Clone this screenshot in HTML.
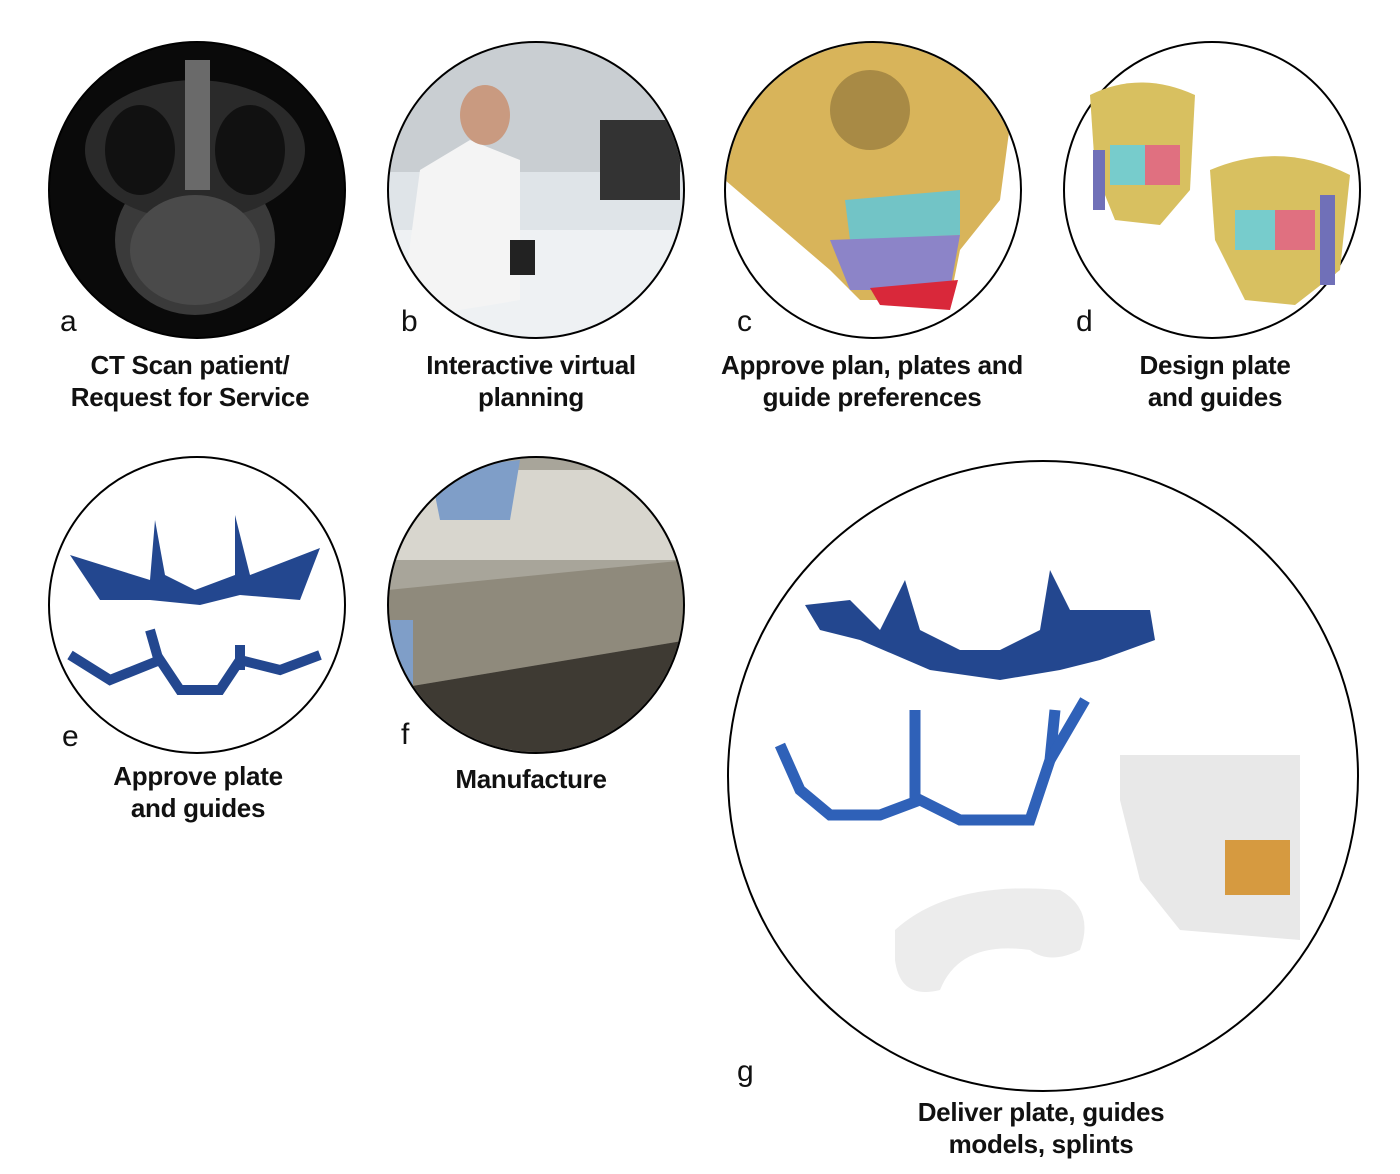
<!DOCTYPE html>
<html><head><meta charset="utf-8"><style>
html,body{margin:0;padding:0;background:#fff;}
svg{display:block}
text{font-family:"Liberation Sans",sans-serif;}
.cap{font-size:26px;font-weight:bold;letter-spacing:-0.3px;text-anchor:middle;fill:#111}
.lt{font-size:30px;fill:#111}
</style></head><body>
<svg width="1400" height="1174" viewBox="0 0 1400 1174" xmlns="http://www.w3.org/2000/svg">
<defs>
<clipPath id="ca"><circle cx="197" cy="190" r="147"/></clipPath>
<clipPath id="cb"><circle cx="536" cy="190" r="147"/></clipPath>
<clipPath id="cc"><circle cx="873" cy="190" r="147"/></clipPath>
<clipPath id="cf"><circle cx="536" cy="605" r="147"/></clipPath>
</defs>
<circle cx="197" cy="190" r="148" fill="#0a0a0a"/>
<g clip-path="url(#ca)">
<ellipse cx="195" cy="240" rx="80" ry="75" fill="#3a3a3a"/>
<ellipse cx="195" cy="150" rx="110" ry="70" fill="#2a2a2a"/>
<ellipse cx="140" cy="150" rx="35" ry="45" fill="#111"/>
<ellipse cx="250" cy="150" rx="35" ry="45" fill="#111"/>
<rect x="185" y="60" width="25" height="130" fill="#6a6a6a"/>
<ellipse cx="195" cy="250" rx="65" ry="55" fill="#4a4a4a"/>
</g>
<circle cx="197" cy="190" r="148" fill="none" stroke="#000" stroke-width="2"/>
<circle cx="536" cy="190" r="148" fill="#dfe4e8"/>
<g clip-path="url(#cb)">
<rect x="388" y="42" width="300" height="130" fill="#c9ced2"/>
<rect x="600" y="120" width="80" height="80" fill="#333"/>
<rect x="388" y="230" width="300" height="110" fill="#eef1f3"/>
<path d="M400 320 L420 170 L470 140 L520 160 L520 300 Z" fill="#f4f4f4"/>
<ellipse cx="485" cy="115" rx="25" ry="30" fill="#c99a80"/>
<rect x="510" y="240" width="25" height="35" fill="#222"/>
</g>
<circle cx="536" cy="190" r="148" fill="none" stroke="#000" stroke-width="2"/>
<circle cx="873" cy="190" r="148" fill="#fff"/>
<g clip-path="url(#cc)">
<path d="M725 42 L1021 42 L1000 200 L960 250 L950 300 L860 300 L830 270 L760 210 L725 180 Z" fill="#d8b45a"/>
<ellipse cx="870" cy="110" rx="40" ry="40" fill="#a88a45"/>
<path d="M845 200 L960 190 L960 235 L850 240 Z" fill="#72c4c6"/>
<path d="M830 240 L960 235 L950 290 L850 290 Z" fill="#8c84c8"/>
<path d="M870 288 L958 280 L950 310 L880 305 Z" fill="#d9283a"/>
</g>
<circle cx="873" cy="190" r="148" fill="none" stroke="#000" stroke-width="2"/>
<circle cx="1212" cy="190" r="148" fill="#fff" stroke="#000" stroke-width="2"/>
<path d="M1090 95 Q1140 70 1195 95 L1190 190 L1160 225 L1115 220 L1095 170 Z" fill="#d8c060"/>
<rect x="1110" y="145" width="70" height="40" fill="#e07080"/>
<rect x="1110" y="145" width="35" height="40" fill="#7cc"/>
<path d="M1210 170 Q1280 140 1350 175 L1340 270 L1295 305 L1245 300 L1215 240 Z" fill="#d8c060"/>
<rect x="1235" y="210" width="80" height="40" fill="#7cc"/>
<rect x="1275" y="210" width="40" height="40" fill="#e07080"/>
<rect x="1320" y="195" width="15" height="90" fill="#7070b8"/>
<rect x="1093" y="150" width="12" height="60" fill="#7070b8"/>
<circle cx="197" cy="605" r="148" fill="#fff" stroke="#000" stroke-width="2"/>
<path d="M70 555 L150 580 L155 520 L165 575 L195 590 L235 575 L235 515 L250 575 L320 548 L300 600 L240 595 L200 605 L150 600 L100 600 Z" fill="#23478f"/>
<path d="M70 655 L110 680 L160 660 L180 690 L220 690 L240 660 L280 670 L320 655" fill="none" stroke="#23478f" stroke-width="10"/>
<path d="M150 630 L160 665 M240 645 L240 670" stroke="#23478f" stroke-width="10"/>
<circle cx="536" cy="605" r="148" fill="#a8a59a"/>
<g clip-path="url(#cf)">
<rect x="388" y="470" width="300" height="90" fill="#d8d6ce"/>
<path d="M388 590 L688 560 L688 640 L388 690 Z" fill="#8f8a7c"/>
<path d="M388 690 L688 640 L688 760 L388 760 Z" fill="#3e3a33"/>
<path d="M430 470 L520 460 L510 520 L440 520 Z" fill="#7f9ec8"/>
<rect x="388" y="620" width="25" height="90" fill="#7f9ec8"/>
</g>
<circle cx="536" cy="605" r="148" fill="none" stroke="#000" stroke-width="2"/>
<circle cx="1043" cy="776" r="315" fill="#fff" stroke="#000" stroke-width="2"/>
<path d="M805 605 L850 600 L880 630 L905 580 L920 630 L960 650 L1000 650 L1040 630 L1050 570 L1070 610 L1150 610 L1155 640 L1100 660 L1060 670 L1000 680 L930 670 L860 640 L820 630 Z" fill="#23478f"/>
<path d="M780 745 L800 790 L830 815 L880 815 L920 800 L960 820 L1030 820 L1050 760 L1055 710" fill="none" stroke="#2f61b8" stroke-width="11"/>
<path d="M915 710 L915 800 M1050 760 L1085 700" stroke="#2f61b8" stroke-width="11"/>
<path d="M895 930 Q950 880 1060 890 Q1095 910 1080 950 Q1050 965 1030 950 Q960 940 940 990 Q900 1000 895 960 Z" fill="#ececec"/>
<path d="M1120 755 L1300 755 L1300 940 L1180 930 L1140 880 L1120 800 Z" fill="#e8e8e8"/>
<rect x="1225" y="840" width="65" height="55" fill="#d69a40"/>
<text class="lt" x="60" y="331">a</text>
<text class="lt" x="401" y="331">b</text>
<text class="lt" x="737" y="331">c</text>
<text class="lt" x="1076" y="331">d</text>
<text class="lt" x="62" y="746">e</text>
<text class="lt" x="401" y="744">f</text>
<text class="lt" x="737" y="1081">g</text>
<text class="cap" x="190" y="374">CT Scan patient/</text>
<text class="cap" x="190" y="406">Request for Service</text>
<text class="cap" x="531" y="374">Interactive virtual</text>
<text class="cap" x="531" y="406">planning</text>
<text class="cap" x="872" y="374">Approve plan, plates and</text>
<text class="cap" x="872" y="406">guide preferences</text>
<text class="cap" x="1215" y="374">Design plate</text>
<text class="cap" x="1215" y="406">and guides</text>
<text class="cap" x="198" y="785">Approve plate</text>
<text class="cap" x="198" y="817">and guides</text>
<text class="cap" x="531" y="788">Manufacture</text>
<text class="cap" x="1041" y="1121">Deliver plate, guides</text>
<text class="cap" x="1041" y="1153">models, splints</text>
</svg>
</body></html>
